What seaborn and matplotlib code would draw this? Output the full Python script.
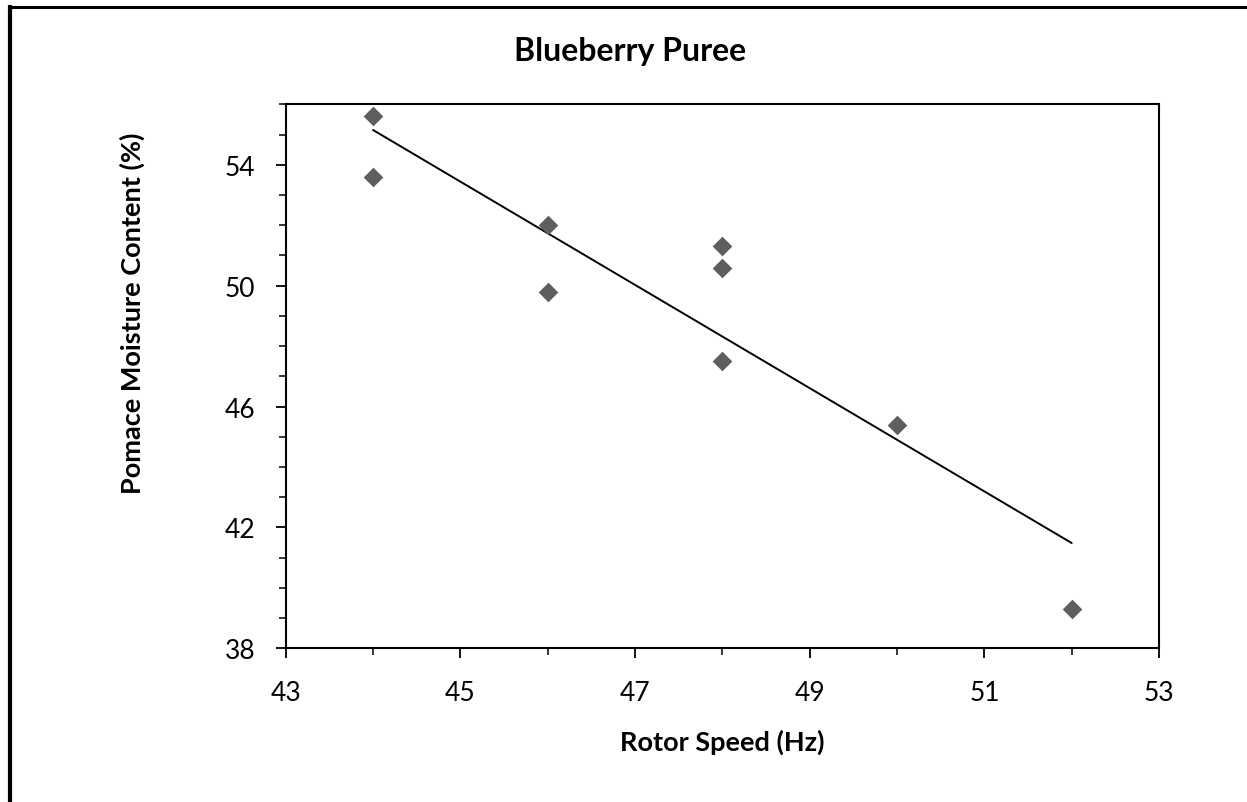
import matplotlib
matplotlib.use("Agg")
import matplotlib.pyplot as plt
import seaborn as sns
import pandas as pd
from matplotlib.ticker import MultipleLocator
from matplotlib.lines import Line2D

rotor_speed = [44, 44, 46, 46, 48, 48, 48, 50, 52]
moisture = [55.6, 53.6, 52.0, 49.8, 51.3, 50.6, 47.5, 45.4, 39.3]
x_ticks = [43, 45, 47, 49, 51, 53]
y_ticks = [38, 42, 46, 50, 54]

df = pd.DataFrame({"Rotor Speed (Hz)": rotor_speed,
                   "Pomace Moisture Content (%)": moisture})

sns.set_theme(style="white")
plt.rcParams['font.family'] = ['Lato', 'DejaVu Sans']

W, H = 1247, 803
fig = plt.figure(figsize=(W / 100, H / 100), dpi=100)
fig.patch.set_facecolor("white")
ax_h = 649.3 - 105.3
ax_w = 1159 - 285.7
ax = fig.add_axes([285.7 / W, 1 - 649.3 / H, ax_w / W, ax_h / H])

sns.regplot(data=df, x="Rotor Speed (Hz)", y="Pomace Moisture Content (%)",
            ax=ax, ci=None, truncate=True, marker="D",
            scatter_kws=dict(s=100, color="#5e5e5e", alpha=1, linewidths=0, zorder=3),
            line_kws=dict(color="black", lw=1.4, zorder=2))

ax.set_xlim(43, 53)
ax.set_ylim(38, 56)
ax.set_xticks(x_ticks)
ax.set_yticks(y_ticks)
ax.xaxis.set_minor_locator(MultipleLocator(1))
ax.yaxis.set_minor_locator(MultipleLocator(1))
ax.tick_params(axis="both", which="major", direction="out", length=7, width=1.3,
               color="black", labelsize=19, labelcolor="black",
               bottom=True, left=True)
ax.tick_params(axis="x", which="major", pad=16)
ax.tick_params(axis="y", which="major", pad=15)
ax.tick_params(axis="both", which="minor", direction="out", length=5, width=1.1,
               color="black", bottom=True, left=True)
for sp in ax.spines.values():
    sp.set_visible(True)
    sp.set_color("black")
    sp.set_linewidth(1.5)
ax.grid(False)

ax.set_xlabel("Rotor Speed (Hz)", fontsize=19.5, fontweight="bold", color="black")
ax.set_ylabel("Pomace Moisture Content (%)", fontsize=19.5, fontweight="bold",
              color="black")
ax.xaxis.set_label_coords(0.5, -(742 - 649.3) / ax_h, transform=ax.transAxes)
ax.yaxis.set_label_coords(-(285.7 - 132) / ax_w, (649.3 - 313) / ax_h,
                          transform=ax.transAxes)
ax.xaxis.label.set_va("center")
ax.yaxis.label.set_va("center")
fig.text(630 / W, 1 - 52 / H, "Blueberry Puree", ha="center", va="center",
         fontsize=23, fontweight="bold", color="black")

# outer frame (left and top edges visible)
fig.add_artist(Line2D([10 / W, 10 / W], [0, 1 - 6 / H], transform=fig.transFigure,
                      color="black", lw=3, solid_capstyle="butt"))
fig.add_artist(Line2D([8 / W, 1], [1 - 7.5 / H, 1 - 7.5 / H], transform=fig.transFigure,
                      color="black", lw=2.2, solid_capstyle="butt"))

fig.savefig("out.png", dpi=100, facecolor="white")
